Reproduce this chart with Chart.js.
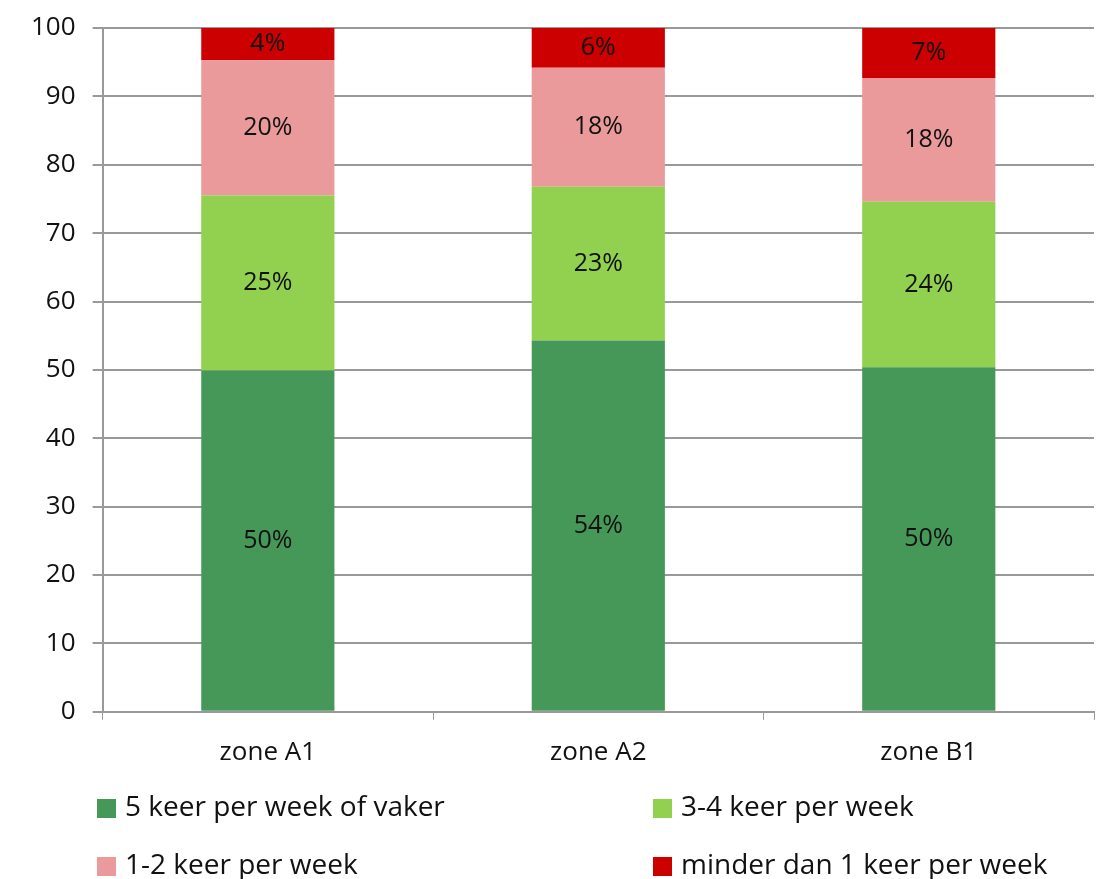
<!DOCTYPE html>
<html>
<head>
<meta charset="utf-8">
<script src="https://cdn.jsdelivr.net/npm/chart.js@4"></script>
<style>
  html, body { margin: 0; padding: 0; background: #fff; }
  #wrap { width: 1107px; height: 879px; position: relative; }
</style>
</head>
<body>
<div id="wrap"><canvas id="chart" width="1107" height="879"></canvas></div>
<script>
const zones = ["zone A1", "zone A2", "zone B1"];
const seriesNames = ["5 keer per week of vaker", "3-4 keer per week", "1-2 keer per week", "minder dan 1 keer per week"];
const seriesColors = ["#469858", "#92D050", "#EA9A9A", "#CC0000"];

// values (segment heights)
const vaker5 = [49.9, 54.3, 50.4];
const keer34 = [25.6, 22.5, 24.2];
const keer12 = [19.8, 17.4, 18.1];
const minder1 = [4.7, 5.8, 7.3];

// printed percentages
const labels5 = ["50%", "54%", "50%"];
const labels34 = ["25%", "23%", "24%"];
const labels12 = ["20%", "18%", "18%"];
const labelsMinder = ["4%", "6%", "7%"];

const yTicks = [0, 10, 20, 30, 40, 50, 60, 70, 80, 90, 100];

const FONT = "'Open Sans', 'DejaVu Sans', sans-serif";

const seriesData = [vaker5, keer34, keer12, minder1];
const seriesLabels = [labels5, labels34, labels12, labelsMinder];

// write the percentage in the middle of each segment
const segmentLabels = {
  id: "segmentLabels",
  afterDatasetsDraw(chart) {
    const ctx = chart.ctx;
    ctx.save();
    ctx.font = "25px " + FONT;
    ctx.fillStyle = "#111";
    ctx.textAlign = "center";
    ctx.textBaseline = "middle";
    chart.data.datasets.forEach((ds, i) => {
      chart.getDatasetMeta(i).data.forEach((bar, j) => {
        const y = (bar.y + bar.base) / 2;
        ctx.fillText(seriesLabels[i][j], bar.x, y);
      });
    });
    ctx.restore();
  }
};

// two-column legend under the axis
const gridLegend = {
  id: "gridLegend",
  afterDraw(chart) {
    const ctx = chart.ctx;
    const cols = [97, 653];
    const rows = [808, 866];
    ctx.save();
    ctx.font = "28px " + FONT;
    ctx.textBaseline = "middle";
    ctx.textAlign = "left";
    seriesNames.forEach((name, i) => {
      const x = cols[i % 2];
      const y = rows[Math.floor(i / 2)];
      ctx.fillStyle = seriesColors[i];
      ctx.fillRect(x, y - 9, 19, 19);
      ctx.fillStyle = "#111";
      ctx.fillText(name, x + 28, y);
    });
    ctx.restore();
  }
};

const ctx = document.getElementById("chart").getContext("2d");

new Chart(ctx, {
  type: "bar",
  data: {
    labels: zones,
    datasets: seriesData.map((d, i) => ({
      label: seriesNames[i],
      data: d,
      backgroundColor: seriesColors[i],
      borderWidth: 0,
      categoryPercentage: 1,
      barPercentage: 0.403,
    })),
  },
  options: {
    responsive: false,
    animation: false,
    layout: {
      padding: { left: 14, right: 13, top: 5, bottom: 94 },
    },
    plugins: {
      legend: { display: false },
      tooltip: { enabled: false },
    },
    scales: {
      x: {
        stacked: true,
        grid: {
          drawOnChartArea: false,
          drawTicks: true,
          tickLength: 8,
          color: "#999",
        },
        border: { color: "#999", width: 2 },
        ticks: {
          color: "#111",
          font: { family: FONT, size: 26 },
          padding: 17,
        },
      },
      y: {
        stacked: true,
        min: 0,
        max: 100,
        afterBuildTicks(axis) {
          axis.ticks = yTicks.map(v => ({ value: v }));
        },
        grid: {
          color: "#999",
          lineWidth: 2,
          tickLength: 10,
        },
        border: { color: "#999", width: 2 },
        ticks: {
          color: "#111",
          font: { family: FONT, size: 26, lineHeight: 0.85 },
          padding: 17,
        },
      },
    },
  },
  plugins: [segmentLabels, gridLegend],
});
</script>
</body>
</html>
